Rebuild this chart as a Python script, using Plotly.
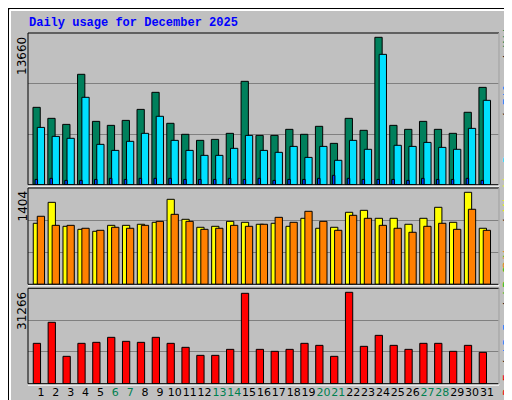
import plotly.graph_objects as go

days = list(range(1, 32))
weekend_days = [6, 7, 13, 14, 20, 21, 27, 28]

hits = [7170, 6150, 5590, 10230, 5870, 5500, 5960, 6980, 8560, 5690, 4670, 4110, 4200, 4760, 9580, 4570,
        4570, 5130, 4670, 5410, 3830, 6150, 5040, 13660, 5500, 5130, 5870, 5130, 4760, 6710, 9020]
files = [5310, 4480, 4300, 8100, 3740, 3180, 4020, 4760, 6340, 4110, 3180, 2720, 2720, 3370, 4570, 3180,
         3000, 3550, 2530, 3550, 2260, 4110, 3280, 12080, 3650, 3550, 3920, 3460, 3280, 5220, 7820]
pages = [490, 590, 400, 400, 490, 590, 490, 590, 590, 590, 490, 490, 490, 590, 490, 590,
         400, 490, 490, 590, 870, 590, 490, 490, 490, 400, 590, 490, 490, 590, 400]
visits = [931, 1251, 885, 839, 809, 900, 900, 916, 946, 1297, 992, 870, 885, 961, 946, 916,
          931, 885, 1007, 855, 870, 1099, 1129, 1007, 1007, 916, 1007, 1175, 946, 1404, 855]
sites = [1038, 900, 900, 855, 824, 870, 855, 900, 961, 1068, 961, 839, 855, 900, 885, 916,
         1022, 946, 1114, 961, 824, 1053, 1007, 900, 855, 794, 885, 931, 839, 1145, 824]
kbytes = [13810, 21000, 9360, 13810, 14150, 15860, 14490, 14150, 15860, 13810, 12440, 9700, 9700, 11750,
          30920, 11750, 11070, 11750, 13810, 13120, 9360, 31266, 12780, 16540, 13120, 11750, 13810, 13810,
          11070, 13120, 10730]

W, H = 512, 400
px = lambda v: v / W
py = lambda v: 1 - v / H

fig = go.Figure()
line = dict(color="black", width=1)


def add_bar(y, color, offset, width, axis):
    fig.add_trace(go.Bar(x=days, y=y, marker=dict(color=color, line=line), offset=offset, width=width,
                         xaxis="x", yaxis=axis, showlegend=False, hoverinfo="y"))


add_bar(hits, "#00805C", -0.54, 0.49, "y")
add_bar(files, "#00E0FF", -0.25, 0.49, "y")
add_bar(pages, "#0040FF", -0.40, 0.17, "y")
add_bar(visits, "#FFFF00", -0.52, 0.49, "y2")
add_bar(sites, "#FF8000", -0.25, 0.49, "y2")
add_bar(kbytes, "#FF0000", -0.52, 0.49, "y3")

ticktext = [f'<span style="color:#008050">{d}</span>' if d in weekend_days else str(d) for d in days]

panels = [("yaxis", 25, 176.7, 13660 * 151.7 / 147.4),
          ("yaxis2", 180, 276.3, 1404 * 96.3 / 92),
          ("yaxis3", 280.3, 375.7, 31266 * 95.3 / 91.3)]

layout = dict(
    width=W, height=H, margin=dict(l=0, r=0, t=0, b=0),
    paper_bgcolor="#C0C0C0", plot_bgcolor="#C0C0C0", barmode="overlay",
    xaxis=dict(domain=[px(20), px(491)], range=[0.126, 31.81], tickvals=days, ticktext=ticktext,
               tickangle=0, automargin=False, showgrid=False, zeroline=False, ticks="",
               tickfont=dict(family="DejaVu Sans", size=11, color="black"), anchor="y3"),
)
shapes = []
for name, top, bot, rng in panels:
    layout[name] = dict(domain=[py(bot), py(top)], range=[0, rng], tickvals=[rng / 3, 2 * rng / 3],
                        showticklabels=False, gridcolor="#808080", gridwidth=1, zeroline=False, ticks="")
    shapes.append(dict(type="rect", xref="paper", yref="paper", x0=px(20), x1=px(491), y0=py(bot), y1=py(top),
                       line=dict(color="black", width=1), layer="above"))
    shapes.append(dict(type="line", xref="paper", yref="paper", x0=px(491), x1=px(491), y0=py(bot + 1), y1=py(top),
                       line=dict(color="white", width=1), layer="above"))
    shapes.append(dict(type="line", xref="paper", yref="paper", x0=px(20), x1=px(491), y0=py(bot + 1.5), y1=py(bot + 1.5),
                       line=dict(color="white", width=1), layer="above"))
layout["yaxis2"]["anchor"] = "x"
layout["yaxis3"]["anchor"] = "x"

# outer 3D frame
shapes += [
    dict(type="rect", xref="paper", yref="paper", x0=0, x1=1, y0=0, y1=1, line=dict(color="black", width=2)),
    dict(type="line", xref="paper", yref="paper", x0=px(2), x1=px(2), y0=py(396), y1=py(2), line=dict(color="white", width=2)),
    dict(type="line", xref="paper", yref="paper", x0=px(2), x1=px(508), y0=py(2), y1=py(2), line=dict(color="white", width=2)),
    dict(type="line", xref="paper", yref="paper", x0=px(509), x1=px(509), y0=py(396), y1=py(2), line=dict(color="#808080", width=4)),
    dict(type="line", xref="paper", yref="paper", x0=px(2), x1=px(510), y0=py(396), y1=py(396), line=dict(color="#808080", width=4)),
]
layout["shapes"] = shapes

mono = "Liberation Mono"
ann = [
    dict(text="<b>Daily usage for December 2025</b>", x=px(19), y=py(15), xanchor="left", yanchor="middle",
         font=dict(family=mono, size=12, color="#0000FF")),
    dict(text="13660", x=px(14), y=py(27), textangle=-90, xanchor="center", yanchor="top",
         font=dict(family="DejaVu Sans", size=12, color="black")),
    dict(text="1404", x=px(14), y=py(181), textangle=-90, xanchor="center", yanchor="top",
         font=dict(family="DejaVu Sans", size=12, color="black")),
    dict(text="31266", x=px(14), y=py(282), textangle=-90, xanchor="center", yanchor="top",
         font=dict(family="DejaVu Sans", size=12, color="black")),
    dict(text='<span style="color:#00E0FF">Pages</span> / <span style="color:#0080FF">Files</span> / '
              '<span style="color:#008050">Hits</span>',
         x=px(501), y=py(83), textangle=-90, xanchor="center", yanchor="middle",
         font=dict(family=mono, size=12, color="black")),
    dict(text='<span style="color:#FF8000">Sites</span> / <span style="color:#FFFF00">Visits</span>',
         x=px(501), y=py(211), textangle=-90, xanchor="center", yanchor="middle",
         font=dict(family=mono, size=12, color="black")),
    dict(text='<span style="color:#FF0000">kB F</span> / <span style="color:#0080FF">kB In</span> / '
              '<span style="color:#00C000">kB Out</span>',
         x=px(501), y=py(320), textangle=-90, xanchor="center", yanchor="middle",
         font=dict(family=mono, size=12, color="black")),
]
for a in ann:
    a.update(xref="paper", yref="paper", showarrow=False)
layout["annotations"] = ann

fig.update_layout(**layout)
fig.write_html("out.html")
